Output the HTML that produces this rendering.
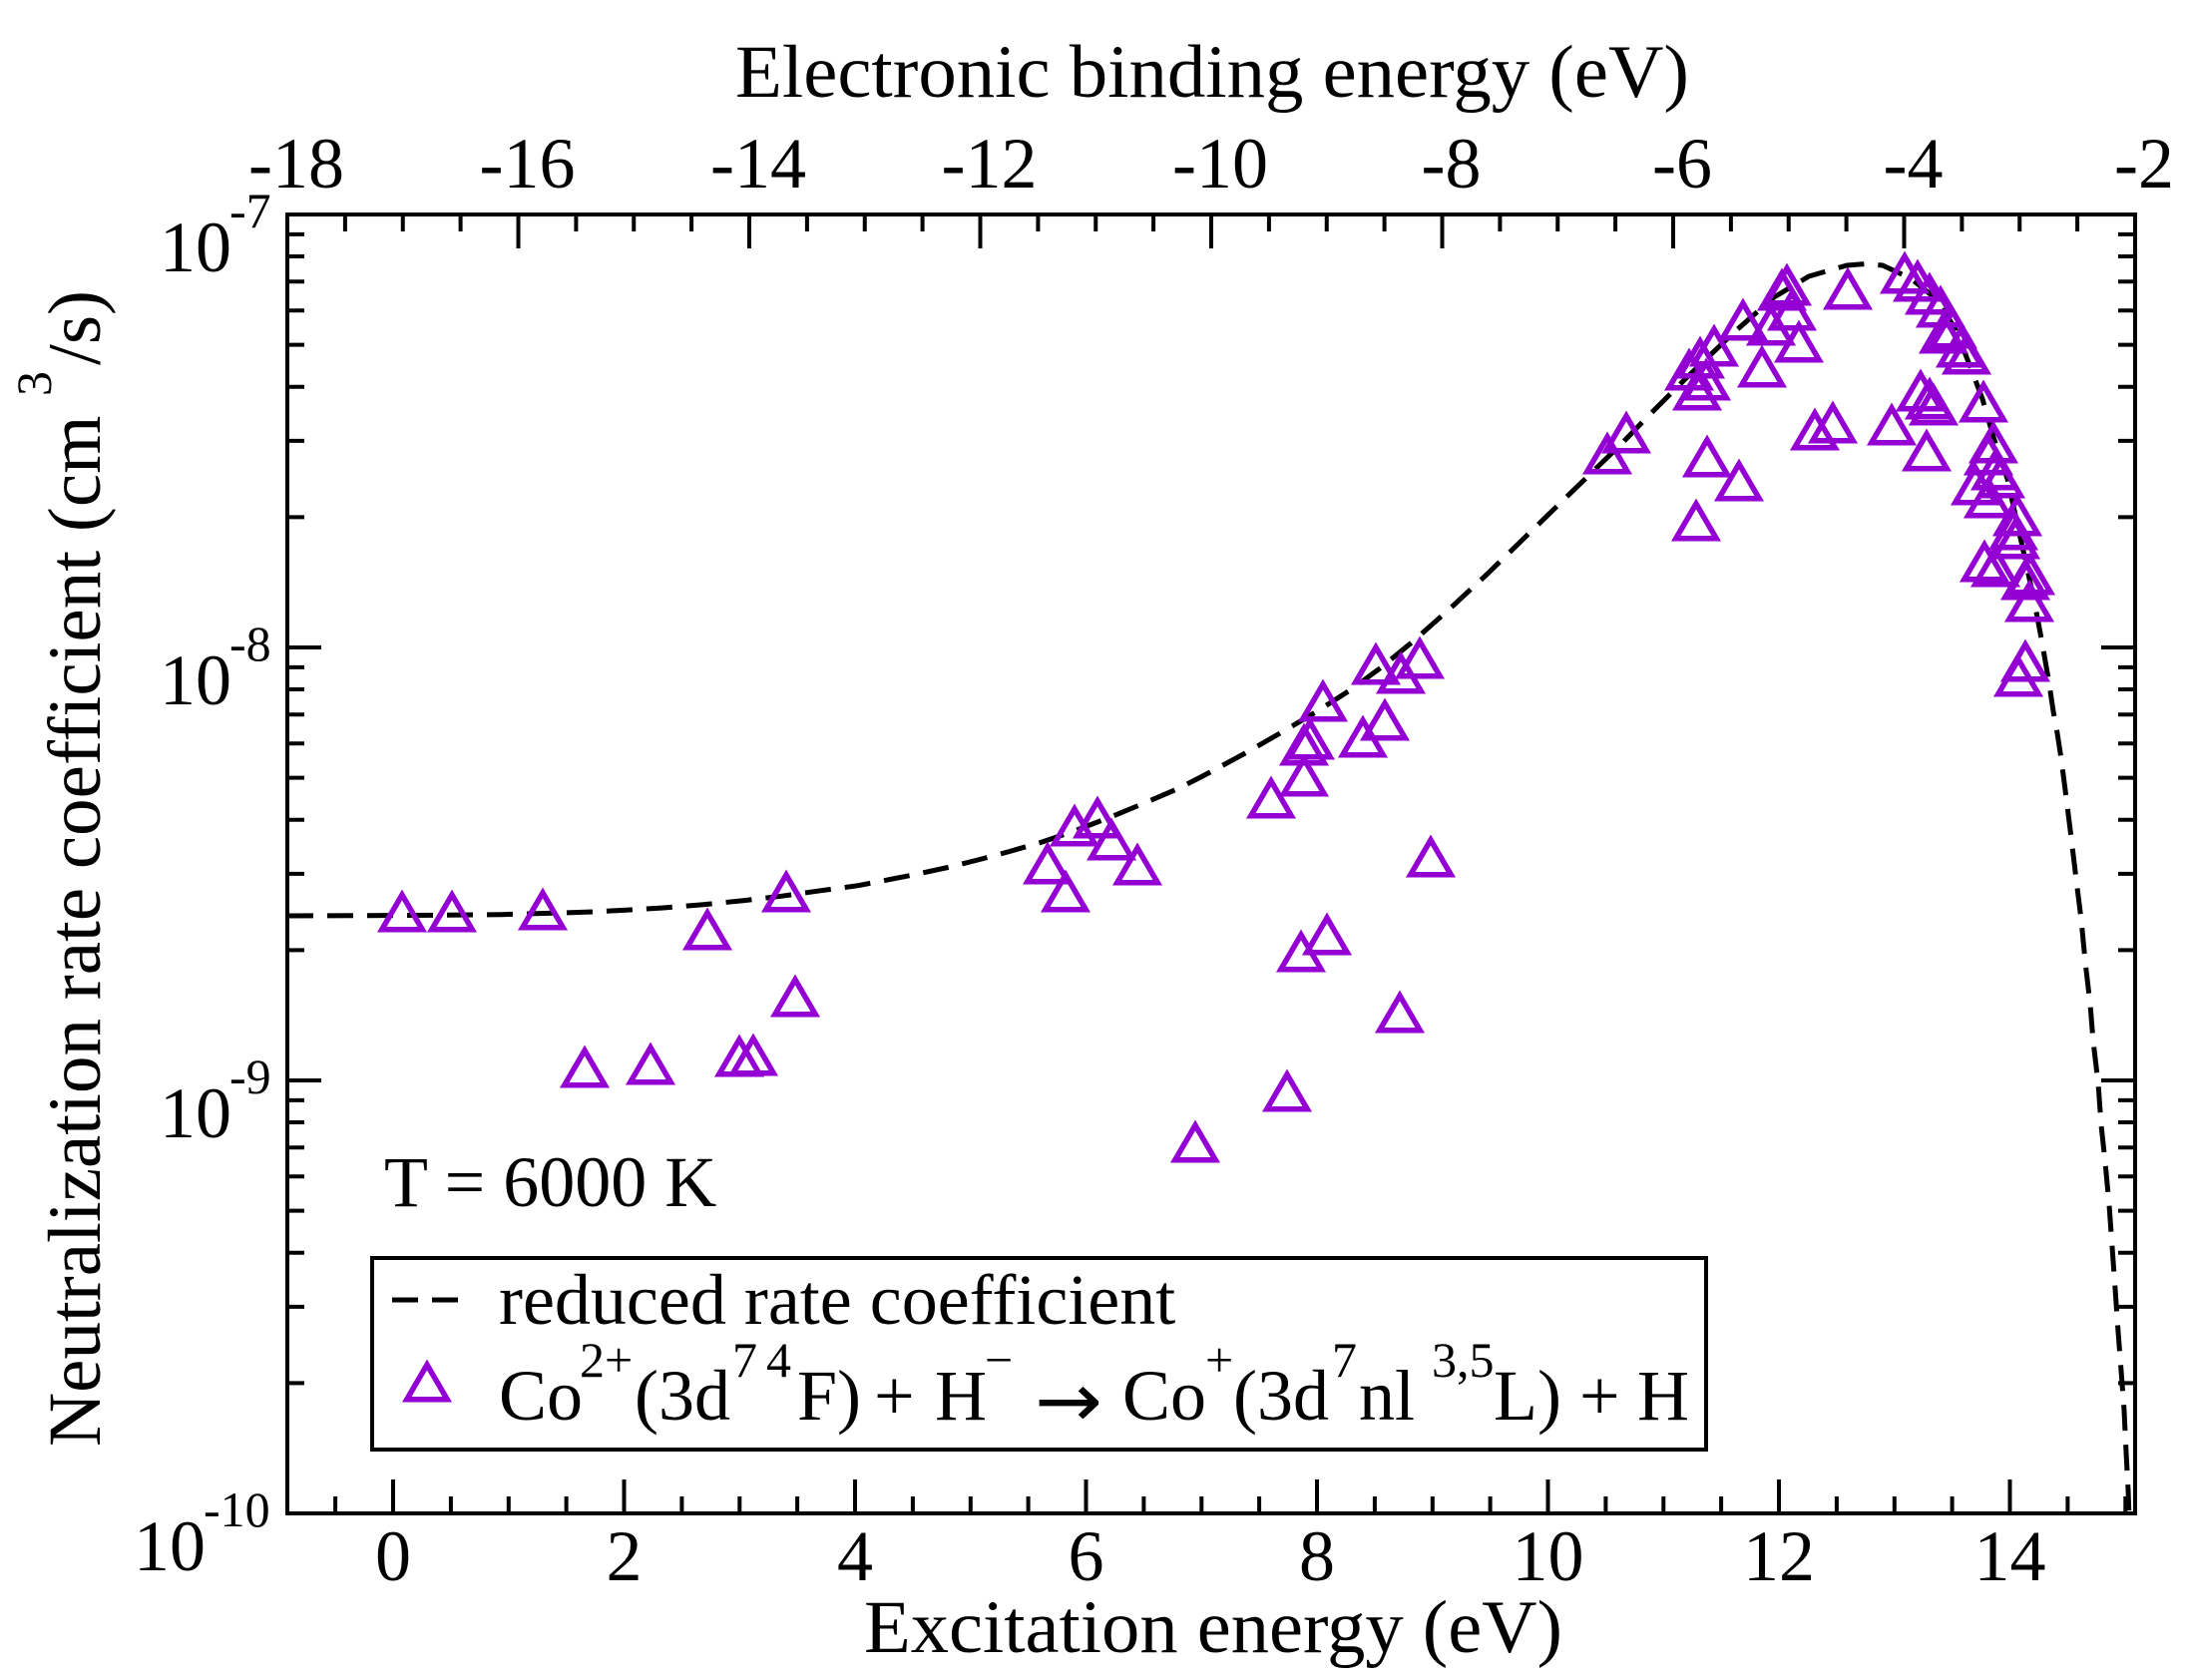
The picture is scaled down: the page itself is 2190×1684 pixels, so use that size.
<!DOCTYPE html>
<html>
<head>
<meta charset="utf-8">
<style>
  html,body{margin:0;padding:0;background:#fff;}
  svg{display:block;}
  text{font-family:"Liberation Serif","Times New Roman",serif;fill:#000;}
</style>
</head>
<body>
<svg width="2190" height="1684" viewBox="0 0 2190 1684" xmlns="http://www.w3.org/2000/svg">
  <defs>
    <clipPath id="plot"><rect x="288" y="215" width="1852" height="1302"/></clipPath>
    <path id="tri" d="M0,-16 L20.25,18.75 L-20.25,18.75 Z" fill="none" stroke="#9400d3" stroke-width="5.5" stroke-linejoin="miter"/>
  </defs>
  <rect x="0" y="0" width="2190" height="1684" fill="#fff"/>

  <!-- dashed curve -->
  <g clip-path="url(#plot)">
    <polyline fill="none" stroke="#000" stroke-width="5" stroke-dasharray="26 14" stroke-linejoin="round"
      points="288,918 370,917.7 440,917.3 503,916.7 587,914.3 627,912.3 665,910 705,906.7 745,902.7 783,898.3 823,892.7 860,887.7 888,882.3 920,876 950,869.5 980,862 1010,854 1043,844.5 1078,832.5 1113,819 1147,805 1182,790 1213,774 1248,755 1283,735 1320,713 1353,692 1383,670 1415,644 1450,613 1490,576 1525,542 1560,508 1593,476 1625,445 1654,415 1688,381 1737,334 1778,298 1813,277 1851,266 1870,264.5 1887,266 1915,279 1941,300 1960,330 1975,368 1987,400 1998,438 2012,480 2027,548 2039,603 2046,640 2053,680 2058,713 2062,735 2066,761 2071,800 2076,840 2081,882 2086,922 2090,964 2095,1007 2098,1044 2103,1086 2106,1128 2110,1165 2114,1208 2117,1250 2120,1292 2123,1335 2126,1374 2129,1414 2131,1456 2133,1493 2134,1522"/>
  </g>

  <!-- triangles -->
  <g>
    <use href="#tri" x="403" y="913"/><use href="#tri" x="453" y="913"/><use href="#tri" x="544" y="911"/>
    <use href="#tri" x="709" y="931"/><use href="#tri" x="788" y="893"/><use href="#tri" x="797" y="998"/>
    <use href="#tri" x="586" y="1069"/><use href="#tri" x="652" y="1066"/><use href="#tri" x="741" y="1058"/>
    <use href="#tri" x="755" y="1057"/>

    <use href="#tri" x="1077" y="827"/><use href="#tri" x="1100" y="819"/><use href="#tri" x="1050" y="865"/>
    <use href="#tri" x="1114" y="841"/><use href="#tri" x="1068" y="893"/><use href="#tri" x="1140" y="866"/>
    <use href="#tri" x="1274" y="799"/><use href="#tri" x="1307" y="777"/><use href="#tri" x="1307" y="746"/>
    <use href="#tri" x="1313" y="740"/><use href="#tri" x="1326" y="702"/><use href="#tri" x="1366" y="738"/>
    <use href="#tri" x="1388" y="721"/><use href="#tri" x="1379" y="665"/><use href="#tri" x="1404" y="674"/>
    <use href="#tri" x="1423" y="659"/><use href="#tri" x="1434" y="858"/><use href="#tri" x="1330" y="936"/>
    <use href="#tri" x="1304" y="953"/><use href="#tri" x="1403" y="1014"/><use href="#tri" x="1290" y="1093"/>
    <use href="#tri" x="1198" y="1144"/>

    <use href="#tri" x="1630" y="433"/><use href="#tri" x="1611" y="454"/><use href="#tri" x="1711" y="457"/>
    <use href="#tri" x="1743" y="481"/><use href="#tri" x="1700" y="521"/><use href="#tri" x="1693" y="370"/>
    <use href="#tri" x="1704" y="358"/><use href="#tri" x="1718" y="346"/><use href="#tri" x="1701" y="390"/>
    <use href="#tri" x="1710" y="380"/><use href="#tri" x="1747" y="320"/><use href="#tri" x="1766" y="367"/>
    <use href="#tri" x="1775" y="325"/><use href="#tri" x="1786" y="290"/><use href="#tri" x="1791" y="285"/>
    <use href="#tri" x="1796" y="310"/><use href="#tri" x="1803" y="342"/><use href="#tri" x="1852" y="289"/>
    <use href="#tri" x="1819" y="430"/><use href="#tri" x="1837" y="423"/><use href="#tri" x="1896" y="425"/>
    <use href="#tri" x="1925" y="391"/><use href="#tri" x="1934" y="399"/><use href="#tri" x="1938" y="405"/>
    <use href="#tri" x="1931" y="451"/><use href="#tri" x="1909" y="273"/><use href="#tri" x="1922" y="281"/>
    <use href="#tri" x="1934" y="294"/><use href="#tri" x="1945" y="307"/><use href="#tri" x="1948" y="333"/>
    <use href="#tri" x="1957" y="328"/><use href="#tri" x="1965" y="347"/><use href="#tri" x="1971" y="354"/>

    <use href="#tri" x="1988" y="402"/><use href="#tri" x="1998" y="443"/><use href="#tri" x="1993" y="455"/>
    <use href="#tri" x="2000" y="470"/><use href="#tri" x="1980" y="485"/><use href="#tri" x="2005" y="478"/>
    <use href="#tri" x="1993" y="498"/><use href="#tri" x="2022" y="516"/><use href="#tri" x="2018" y="530"/>
    <use href="#tri" x="2020" y="539"/><use href="#tri" x="1989" y="562"/><use href="#tri" x="2000" y="567"/>
    <use href="#tri" x="2035" y="575"/><use href="#tri" x="2030" y="580"/><use href="#tri" x="2034" y="602"/>
    <use href="#tri" x="2030" y="662"/><use href="#tri" x="2023" y="677"/>
  </g>

  <!-- frame -->
  <rect x="288" y="215" width="1852" height="1302" fill="none" stroke="#000" stroke-width="4"/>

  <!-- ticks -->
  <path fill="none" stroke="#000" stroke-width="4" d="
    M394 1517V1483 M625.5 1517V1483 M857 1517V1483 M1088.5 1517V1483 M1320 1517V1483 M1551.5 1517V1483 M1783 1517V1483 M2014.5 1517V1483
    M336.1 1517V1500 M451.9 1517V1500 M509.8 1517V1500 M567.6 1517V1500 M683.4 1517V1500 M741.3 1517V1500 M799.1 1517V1500
    M914.9 1517V1500 M972.8 1517V1500 M1030.6 1517V1500 M1146.4 1517V1500 M1204.3 1517V1500 M1262.1 1517V1500 M1377.9 1517V1500
    M1435.8 1517V1500 M1493.6 1517V1500 M1609.4 1517V1500 M1667.3 1517V1500 M1725.1 1517V1500 M1840.9 1517V1500 M1898.8 1517V1500
    M1956.6 1517V1500 M2072.4 1517V1500 M2130.3 1517V1500
    M519.5 215V249 M751 215V249 M982.5 215V249 M1214 215V249 M1445.5 215V249 M1677 215V249 M1908.5 215V249
    M345.9 215V232 M403.75 215V232 M461.6 215V232 M577.4 215V232 M635.25 215V232 M693.1 215V232 M808.9 215V232 M866.75 215V232
    M924.6 215V232 M1040.4 215V232 M1098.25 215V232 M1156.1 215V232 M1271.9 215V232 M1329.75 215V232 M1387.6 215V232
    M1503.4 215V232 M1561.25 215V232 M1619.1 215V232 M1734.9 215V232 M1792.75 215V232 M1850.6 215V232 M1966.4 215V232
    M2024.25 215V232 M2082.1 215V232
    M288 649H322 M288 1083H322 M2140 649H2106 M2140 1083H2106
    M288 1386.35H305 M288 1309.93H305 M288 1255.71H305 M288 1213.65H305 M288 1179.28H305 M288 1150.23H305 M288 1125.06H305 M288 1102.86H305
    M288 952.35H305 M288 875.93H305 M288 821.71H305 M288 779.65H305 M288 745.28H305 M288 716.23H305 M288 691.06H305 M288 668.86H305
    M288 518.35H305 M288 441.93H305 M288 387.71H305 M288 345.65H305 M288 311.28H305 M288 282.23H305 M288 257.06H305 M288 234.86H305
    M2140 1386.35H2123 M2140 1309.93H2123 M2140 1255.71H2123 M2140 1213.65H2123 M2140 1179.28H2123 M2140 1150.23H2123 M2140 1125.06H2123 M2140 1102.86H2123
    M2140 952.35H2123 M2140 875.93H2123 M2140 821.71H2123 M2140 779.65H2123 M2140 745.28H2123 M2140 716.23H2123 M2140 691.06H2123 M2140 668.86H2123
    M2140 518.35H2123 M2140 441.93H2123 M2140 387.71H2123 M2140 345.65H2123 M2140 311.28H2123 M2140 282.23H2123 M2140 257.06H2123 M2140 234.86H2123
  "/>

  <!-- top tick labels -->
  <g font-size="72" text-anchor="middle">
    <text x="297" y="188">-18</text>
    <text x="528.5" y="188">-16</text>
    <text x="760" y="188">-14</text>
    <text x="991.5" y="188">-12</text>
    <text x="1223" y="188">-10</text>
    <text x="1454.5" y="188">-8</text>
    <text x="1686" y="188">-6</text>
    <text x="1917.5" y="188">-4</text>
    <text x="2149" y="188">-2</text>
  </g>

  <!-- bottom tick labels -->
  <g font-size="72" text-anchor="middle">
    <text x="394" y="1584">0</text>
    <text x="625.5" y="1584">2</text>
    <text x="857" y="1584">4</text>
    <text x="1088.5" y="1584">6</text>
    <text x="1320" y="1584">8</text>
    <text x="1551.5" y="1584">10</text>
    <text x="1783" y="1584">12</text>
    <text x="2014.5" y="1584">14</text>
  </g>

  <!-- left tick labels -->
  <g font-size="72" text-anchor="end">
    <text x="232" y="272">10</text>
    <text x="232" y="706">10</text>
    <text x="232" y="1140">10</text>
    <text x="206" y="1574">10</text>
  </g>
  <g font-size="50">
    <text x="230" y="228">-7</text>
    <text x="230" y="662">-8</text>
    <text x="230" y="1096">-9</text>
    <text x="204" y="1530">-10</text>
  </g>

  <!-- axis titles -->
  <text x="737" y="97" font-size="75" textLength="956" lengthAdjust="spacingAndGlyphs">Electronic binding energy (eV)</text>
  <text x="866" y="1656" font-size="75" textLength="700" lengthAdjust="spacingAndGlyphs">Excitation energy (eV)</text>
  <text transform="translate(100,1450) rotate(-90)" font-size="75">Neutralization rate coefficient (cm</text>
  <text transform="translate(51,397) rotate(-90)" font-size="50">3</text>
  <text transform="translate(100,366) rotate(-90)" font-size="75">/s)</text>

  <!-- annotation -->
  <text x="385" y="1209" font-size="72">T = 6000 K</text>

  <!-- legend -->
  <rect x="373" y="1261" width="1337" height="192" fill="#fff" stroke="#000" stroke-width="4"/>
  <line x1="393" y1="1303" x2="459" y2="1303" stroke="#000" stroke-width="5" stroke-dasharray="26 14"/>
  <text x="500" y="1327" font-size="72">reduced rate coefficient</text>
  <use href="#tri" x="428" y="1384"/>
  <g font-size="72">
    <text x="500" y="1423">Co</text>
    <text x="636" y="1423">(3d</text>
    <text x="799" y="1423">F)</text>
    <text x="876" y="1423">+</text>
    <text x="937" y="1423">H</text>
    <text x="1037" y="1430" style="font-family:'DejaVu Sans',sans-serif" font-size="76" textLength="68" lengthAdjust="spacingAndGlyphs">→</text>
    <text x="1125" y="1423">Co</text>
    <text x="1236" y="1423">(3d</text>
    <text x="1362" y="1423">nl</text>
    <text x="1497" y="1423">L)</text>
    <text x="1583" y="1423">+</text>
    <text x="1641" y="1423">H</text>
  </g>
  <g font-size="50">
    <text x="581" y="1380">2+</text>
    <text x="734" y="1380">7</text>
    <text x="768" y="1380">4</text>
    <text x="987" y="1380">−</text>
    <text x="1208" y="1380">+</text>
    <text x="1335" y="1380">7</text>
    <text x="1435" y="1380">3,5</text>
  </g>
</svg>
</body>
</html>
